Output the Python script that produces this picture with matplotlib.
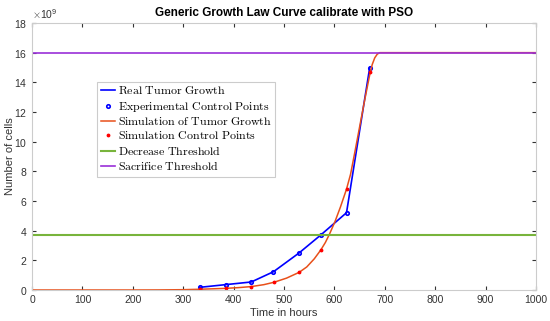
import numpy as np
import matplotlib.pyplot as plt
from matplotlib.ticker import ScalarFormatter

plt.rcParams['font.family'] = ['Liberation Sans', 'DejaVu Sans']
plt.rcParams['mathtext.fontset'] = 'cm'

# experimental (real) control points, cells in 1e9
t_exp = [333, 384, 435, 479, 530, 573, 624, 670]
n_exp = [0.18, 0.36, 0.54, 1.23, 2.5, 3.71, 5.21, 14.99]

# simulated control points
t_sim = [333, 384, 435, 480, 530, 573, 624, 671]
n_sim = [0.07, 0.11, 0.22, 0.52, 1.19, 2.70, 6.79, 14.68]

# simulated growth curve
t_curve = [0, 200, 250, 300, 333, 360, 384, 410, 435, 460, 480, 505, 530, 545,
           560, 573, 582, 590, 601, 612, 624, 632, 640, 650, 660, 670, 675,
           680, 685, 690, 700, 1000]
n_curve = [0, 0, 0.005, 0.02, 0.05, 0.08, 0.11, 0.16, 0.23, 0.36, 0.52, 0.8,
           1.19, 1.55, 2.1, 2.7, 3.2, 3.75, 4.6, 5.6, 6.8, 7.8, 9.2, 11.0,
           12.8, 14.5, 15.2, 15.65, 15.9, 16.0, 16.0, 16.0]

decrease_thr = 3.71
sacrifice_thr = 16.0

fig = plt.figure(figsize=(5.5, 3.21), dpi=100)
ax = fig.add_axes([0.0582, 0.0966, 0.9164, 0.8318])

scale = 1e9
ax.plot(t_exp, np.array(n_exp) * scale, '-', color='#0000ff', lw=1.2,
        label=r'$\mathrm{Real\ Tumor\ Growth}$')
ax.plot(t_exp, np.array(n_exp) * scale, 'o', color='#0000ff', ms=2.5, mfc='none',
        mew=1.2, label=r'$\mathrm{Experimental\ Control\ Points}$')
ax.plot(t_curve, np.array(n_curve) * scale, '-', color='#e8501a', lw=1.1,
        label=r'$\mathrm{Simulation\ of\ Tumor\ Growth}$')
ax.plot(t_sim, np.array(n_sim) * scale, '.', color='#ff0000', ms=3.5,
        label=r'$\mathrm{Simulation\ Control\ Points}$')
ax.axhline(decrease_thr * scale, color='#78b43c', lw=1.5,
           label=r'$\mathrm{Decrease\ Threshold}$')
ax.axhline(sacrifice_thr * scale, color='#9a30d8', lw=1.2,
           label=r'$\mathrm{Sacrifice\ Threshold}$')

ax.set_xlim(0, 1000)
ax.set_ylim(0, 18e9)
ax.set_xticks(np.arange(0, 1001, 100))
ax.set_yticks(np.arange(0, 18.1, 2) * scale)
fmt = ScalarFormatter(useMathText=True)
fmt.set_powerlimits((9, 9))
ax.yaxis.set_major_formatter(fmt)
ax.yaxis.get_offset_text().set_fontsize(7.5)
ax.yaxis.get_offset_text().set_color('#333333')

ax.tick_params(direction='in', length=3, labelsize=7.5, colors='#333333',
               top=True, right=True)
for s in ax.spines.values():
    s.set_color('#cccccc')
    s.set_linewidth(0.8)

ax.set_xlabel('Time in hours', fontsize=8, color='#333333', labelpad=2)
ax.set_ylabel('Number of cells', fontsize=8, color='#333333')
ax.yaxis.set_label_coords(-0.033, 0.5)
ax.set_title('Generic Growth Law Curve calibrate with PSO', fontsize=8.5,
             fontweight='bold', pad=5)

leg = ax.legend(loc='upper left', bbox_to_anchor=(0.129, 0.78), fontsize=8.6,
                handlelength=1.2, handletextpad=0.25, borderpad=0.3,
                labelspacing=0.2, fancybox=False, framealpha=1, borderaxespad=0)
leg.get_frame().set_edgecolor('#cccccc')
leg.get_frame().set_linewidth(0.8)

fig.savefig('out.png', dpi=100)
